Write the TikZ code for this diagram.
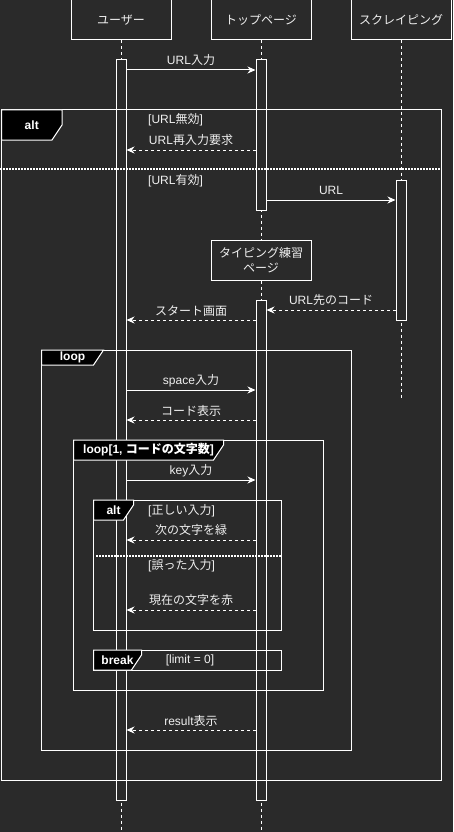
\documentclass[tikz,border=0pt]{standalone}
\usepackage{fontspec}
\setmainfont{Liberation Sans}
\newfontfamily\jp{Noto Sans CJK JP}
\usetikzlibrary{arrows.meta}
\definecolor{bg}{HTML}{2A2A2A}
\definecolor{fg}{HTML}{F0F0F0}
\newcommand\myfs{\fontsize{12pt}{15pt}\selectfont}
\newcommand\ftab[6]{%
  \filldraw[tab] (#1,#2) -- ++(#3,0) -- ++(0,{#4-15}) -- ++(-10,15) -- ++({10-#3},0) -- cycle;
  \node[tabtxt] (#6) at ({#1+#3/2},{#2+#4/2}) {#5};}
\begin{document}
\begin{tikzpicture}[x=1pt,y=-1pt,
  part/.style={draw=white, line width=1pt, fill=bg, text=fg, minimum width=100pt, minimum height=40pt, inner sep=0pt, font=\myfs, align=center},
  act/.style={draw=white, line width=1pt, fill=bg, minimum width=10pt, inner sep=0pt},
  life/.style={draw=white, line width=1pt, dash pattern=on 3pt off 3pt},
  msg/.style={draw=white, line width=1pt, -{Stealth[length=8pt,width=7pt,inset=2.5pt]}},
  ret/.style={msg, dash pattern=on 3pt off 3pt},
  lbl/.style={text=fg, font=\myfs, inner sep=0pt},
  frm/.style={draw=white, line width=1pt},
  tab/.style={draw=white, fill=black, line width=1pt},
  sep/.style={draw=white, line width=2pt, dash pattern=on 1.5pt off 1.5pt},
  tabtxt/.style={text=white, font=\myfs\bfseries, inner sep=0pt}]
\fill[bg] (0,0) rectangle (453,832);
\useasboundingbox (0,0) rectangle (453,832);

% participants
\node[part] (u) at (121,20) {{\jp ユーザー}};
\node[part] (t) at (261,20) {{\jp トップページ}};
\node[part] (s) at (401,20) {{\jp スクレイピング}};
\node[part] (tp) at (261,260) {{\jp タイピング練習}\\{\jp ページ}};

\coordinate (ue) at (121,832);
\coordinate (te) at (261,832);
\coordinate (se) at (401,400);

% lifelines
\draw[life] (u.south) -- (ue);
\draw[life] (t.south) -- (tp.north);
\draw[life] (tp.south) -- (te);
\draw[life] (s.south) -- (se);

% activations
\node[act, minimum height=740pt] (au) at (121,430) {};
\node[act, minimum height=150pt] (at1) at (261,135) {};
\node[act, minimum height=500pt] (at2) at (261,550) {};
\node[act, minimum height=140pt] (as) at (401,250) {};

% frames
\draw[frm] (1.5,110) rectangle (441.5,780);
\ftab{1.5}{110}{60.5}{30}{alt}{t1}
\draw[sep] (0,169) -- (441.5,169);
\node[lbl, anchor=west] (c1) at (148,120) {[URL{\jp 無効}]};
\node[lbl, anchor=west] (c2) at (148,181) {[URL{\jp 有効}]};

\draw[frm] (41.5,350) rectangle (351.5,750);
\ftab{41.5}{350}{62}{15}{loop}{t2}

\draw[frm] (73.5,440) rectangle (323.5,690);
\ftab{73.5}{440}{150}{20}{loop[1, {\jp\bfseries コードの文字数}]}{t3}

\draw[frm] (93.5,500) rectangle (281.5,630);
\ftab{93.5}{500}{40}{20}{alt}{t4}
\draw[sep] (96,555.5) -- (282,555.5);
\node[lbl, anchor=west] (c3) at (148,511) {[{\jp 正しい入力}]};
\node[lbl, anchor=west] (c4) at (148,566) {[{\jp 誤った入力}]};

\draw[frm] (93.5,650) rectangle (281.5,670);
\ftab{93.5}{650}{48}{20}{break}{t5}
\node[lbl] (c5) at (190,660) {[limit = 0]};

% message heights
\coordinate (y1) at (0,70);
\coordinate (y2) at (0,150);
\coordinate (y3) at (0,200);
\coordinate (y4) at (0,310);
\coordinate (y5) at (0,320);
\coordinate (y6) at (0,390);
\coordinate (y7) at (0,420);
\coordinate (y8) at (0,480);
\coordinate (y9) at (0,540);
\coordinate (y10) at (0,610);
\coordinate (y11) at (0,730);

\draw[msg] (au.east |- y1) -- (at1.west |- y1);
\draw[ret] (at1.west |- y2) -- (au.east |- y2);
\draw[msg] (at1.east |- y3) -- (as.west |- y3);
\draw[ret] (as.west |- y4) -- (at2.east |- y4);
\draw[ret] (at2.west |- y5) -- (au.east |- y5);
\draw[msg] (au.east |- y6) -- (at2.west |- y6);
\draw[ret] (at2.west |- y7) -- (au.east |- y7);
\draw[msg] (au.east |- y8) -- (at2.west |- y8);
\draw[ret] (at2.west |- y9) -- (au.east |- y9);
\draw[ret] (at2.west |- y10) -- (au.east |- y10);
\draw[ret] (at2.west |- y11) -- (au.east |- y11);

% labels
\node[lbl] (l1) at (191,60) {URL{\jp 入力}};
\node[lbl] (l2) at (191,140) {URL{\jp 再入力要求}};
\node[lbl] (l3) at (331,190) {URL};
\node[lbl] (l4) at (331,300) {URL{\jp 先のコード}};
\node[lbl] (l5) at (191,311) {{\jp スタート画面}};
\node[lbl] (l6) at (191,381) {space{\jp 入力}};
\node[lbl] (l7) at (191,411) {{\jp コード表示}};
\node[lbl] (l8) at (191,471) {key{\jp 入力}};
\node[lbl] (l9) at (191,530) {{\jp 次の文字を緑}};
\node[lbl] (l10) at (191,600) {{\jp 現在の文字を赤}};
\node[lbl] (l11) at (191,721) {result{\jp 表示}};
\end{tikzpicture}
\end{document}
